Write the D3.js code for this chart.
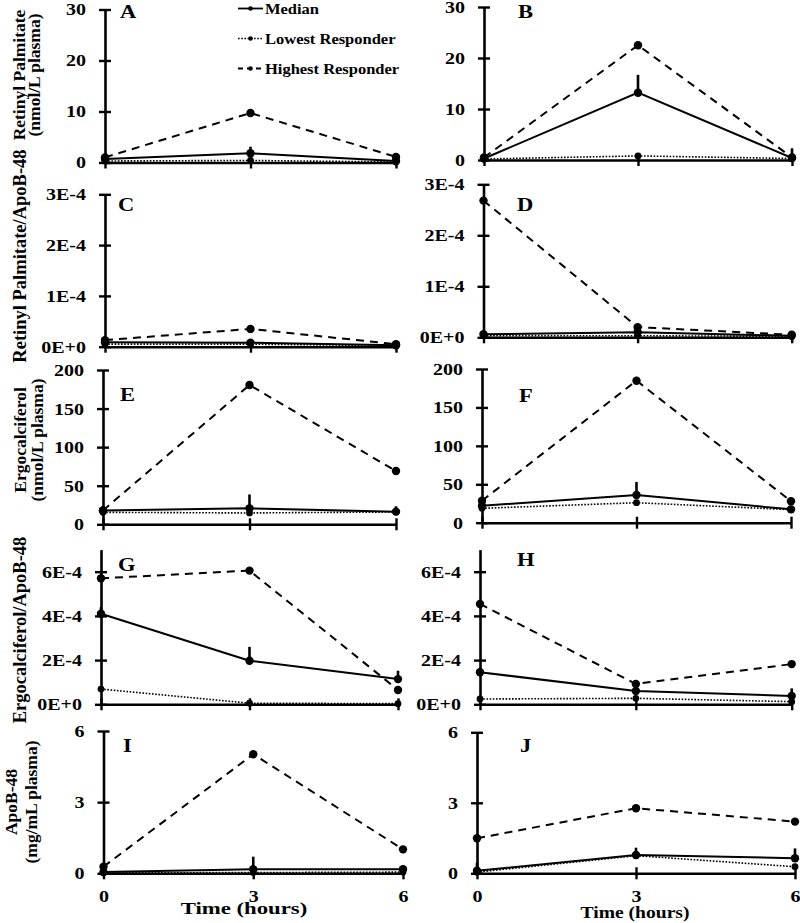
<!DOCTYPE html>
<html>
<head>
<meta charset="utf-8">
<script src="https://cdn.jsdelivr.net/npm/d3@7"></script>
<style>
  html, body { margin: 0; padding: 0; background: #fff; }
  svg { display: block; }
  text { font-family: "Liberation Serif", "Times New Roman", serif; font-weight: bold; fill: #000; }
</style>
</head>
<body>
<svg id="chart" width="800" height="923"></svg>
<script>
// ---------------- DATA ----------------
const times = [0, 3, 6];
const xTickLabels = ["0", "3", "6"];
const panelLetters = ["A", "B", "C", "D", "E", "F", "G", "H", "I", "J"];
const seriesNames = ["Median", "Lowest Responder", "Highest Responder"];

// one inner array per panel (A..J), values at 0, 3, 6 h
const medianValues = [
  [0.7, 1.8, 0.3],
  [0.3, 13.2, 0.4],
  [0.9e-5, 0.8e-5, 0.3e-5],
  [0.6e-5, 1.0e-5, 0.3e-5],
  [18, 20.7, 16.4],
  [22, 36, 17.4],
  [4.1e-4, 1.97e-4, 1.14e-4],
  [1.45e-4, 0.6e-4, 0.38e-4],
  [0.05, 0.17, 0.17],
  [0.11, 0.78, 0.64]
];
const medianErrors = [
  [0.3, 1.3, 0.7],
  [0.3, 3.5, 1.9],
  [0.2e-5, 0.3e-5, 0.2e-5],
  [0.2e-5, 0.2e-5, 0.1e-5],
  [3, 18, 7],
  [3, 17, 3],
  [0.3e-4, 0.63e-4, 0.38e-4],
  [0.2e-4, 0.2e-4, 0.34e-4],
  [0.1, 0.53, 0.15],
  [0.34, 0.31, 0.42]
];
const lowestValues = [
  [0.3, 0.4, 0.1],
  [0.2, 0.8, 0.3],
  [0.5e-5, 0.5e-5, 0.2e-5],
  [0.3e-5, 0.3e-5, 0.2e-5],
  [15.5, 14.7, 16],
  [18.7, 26, 17],
  [0.69e-4, 0.05e-4, 0.03e-4],
  [0.24e-4, 0.27e-4, 0.12e-4],
  [0.02, 0.03, 0.05],
  [0.05, 0.75, 0.28]
];
const highestValues = [
  [1.0, 9.7, 1.1],
  [0.5, 22.5, 0.5],
  [1.3e-5, 3.5e-5, 0.5e-5],
  [2.68e-4, 0.2e-4, 0.05e-4],
  [18, 180.5, 69],
  [28.6, 184.8, 28],
  [5.7e-4, 6.05e-4, 0.65e-4],
  [4.54e-4, 0.92e-4, 1.82e-4],
  [0.28, 5.02, 1.01],
  [1.49, 2.77, 2.2]
];

// per row (A/B, C/D, E/F, G/H, I/J)
const yMaxByRow = [30, 3e-4, 200, 7e-4, 6];
const yTickValuesByRow = [
  [0, 10, 20, 30],
  [0, 1e-4, 2e-4, 3e-4],
  [0, 50, 100, 150, 200],
  [0, 2e-4, 4e-4, 6e-4],
  [0, 3, 6]
];
const yTickLabelsByRow = [
  ["0", "10", "20", "30"],
  ["0E+0", "1E-4", "2E-4", "3E-4"],
  ["0", "50", "100", "150", "200"],
  ["0E+0", "2E-4", "4E-4", "6E-4"],
  ["0", "3", "6"]
];
const yTitlesByRow = [
  ["Retinyl Palmitate", "(nmol/L plasma)"],
  ["Retinyl Palmitate/ApoB-48"],
  ["Ergocalciferol", "(nmol/L plasma)"],
  ["Ergocalciferol/ApoB-48"],
  ["ApoB-48", "(mg/mL plasma)"]
];
const xTitle = "Time (hours)";

// ---------------- LAYOUT ----------------
const panelLayout = [
  {x0: 105, x1: 396, yb: 162.5, yt: 9.5, lx: 120, ly: 18},
  {x0: 484, x1: 792, yb: 160, yt: 7, lx: 518, ly: 18},
  {x0: 105, x1: 396, yb: 346.7, yt: 194.3, lx: 118, ly: 211},
  {x0: 483.5, x1: 791.7, yb: 337.3, yt: 184.3, lx: 517, ly: 211},
  {x0: 103, x1: 396, yb: 524.3, yt: 370, lx: 120, ly: 401},
  {x0: 482, x1: 791, yb: 522.7, yt: 369, lx: 519, ly: 402},
  {x0: 101, x1: 398, yb: 704.3, yt: 549.6, lx: 118, ly: 571},
  {x0: 480, x1: 791.7, yb: 704.3, yt: 549.6, lx: 517, ly: 566},
  {x0: 103.5, x1: 403, yb: 873.3, yt: 731, lx: 123, ly: 752},
  {x0: 477, x1: 795, yb: 873.3, yt: 732.3, lx: 520, ly: 752}
];
const yTitleLayout = [
  {cy: 75, xs: [25, 40], fs: 17.5},
  {cy: 256, xs: [26], fs: 18.5},
  {cy: 440, xs: [26, 43], fs: 17.5},
  {cy: 630, xs: [26], fs: 18.5},
  {cy: 802, xs: [17, 37], fs: 17.5}
];

const svg = d3.select("#chart");
const TICK_FS = 16, TICK_SX = 1.25;

function styleAxis(g) {
  g.select(".domain").attr("stroke", "#000").attr("stroke-width", 2.6);
  g.selectAll(".tick line").attr("stroke", "#000").attr("stroke-width", 2.4);
}

panelLayout.forEach((L, i) => {
  const row = Math.floor(i / 2);
  const x = d3.scaleLinear().domain([0, 6]).range([L.x0, L.x1]);
  const y = d3.scaleLinear().domain([0, yMaxByRow[row]]).range([L.yb, L.yt]);
  const g = svg.append("g");

  // y axis
  const labels = yTickLabelsByRow[row];
  const yAxis = d3.axisLeft(y)
    .tickValues(yTickValuesByRow[row])
    .tickFormat((d, k) => labels[k])
    .tickSizeOuter(0).tickSizeInner(6);
  const gy = g.append("g").attr("transform", `translate(${L.x0},0)`).call(yAxis);
  styleAxis(gy);
  gy.selectAll(".tick line").attr("x1", -6).attr("x2", 6);
  gy.selectAll(".tick text")
    .attr("x", -19 / TICK_SX)
    .attr("dy", "0.34em")
    .attr("transform", `scale(${TICK_SX},1)`)
    .style("font-size", TICK_FS + "px")
    .style("font-family", "'Liberation Serif', 'Times New Roman', serif")
    .style("font-weight", "bold")
    .attr("fill", "#000");

  // x axis
  const xAxis = d3.axisBottom(x).tickValues(times)
    .tickFormat((d, k) => xTickLabels[k]).tickSizeOuter(0).tickSizeInner(6);
  const gx = g.append("g").attr("transform", `translate(0,${L.yb})`).call(xAxis);
  styleAxis(gx);
  gx.selectAll(".tick line").attr("y1", -6).attr("y2", 6);
  if (row === 4) {
    gx.selectAll(".tick text")
      .attr("y", 0).attr("dy", 0)
      .attr("transform", `translate(0,28.5) scale(${TICK_SX},1)`)
      .style("font-size", TICK_FS + "px")
      .style("font-family", "'Liberation Serif', 'Times New Roman', serif")
      .style("font-weight", "bold")
      .attr("fill", "#000");
  } else {
    gx.selectAll(".tick text").remove();
  }

  // lines
  const line = d3.line().x((d, k) => x(times[k])).y(d => y(d));
  const seriesDefs = [
    {vals: medianValues[i], dash: null, w: 2, r: 4.2},
    {vals: lowestValues[i], dash: "1.6,1.6", w: 1.6, r: 3.4},
    {vals: highestValues[i], dash: "8,6", w: 2, r: 4.2}
  ];
  // error bars (median, upward only)
  g.append("g").selectAll("line").data(medianValues[i]).join("line")
    .attr("x1", (d, k) => x(times[k])).attr("x2", (d, k) => x(times[k]))
    .attr("y1", d => y(d))
    .attr("y2", (d, k) => y(d + medianErrors[i][k]))
    .attr("stroke", "#000").attr("stroke-width", 2.6);

  seriesDefs.forEach(s => {
    g.append("path").datum(s.vals)
      .attr("d", line).attr("fill", "none")
      .attr("stroke", "#000").attr("stroke-width", s.w)
      .attr("stroke-dasharray", s.dash);
    g.append("g").selectAll("circle").data(s.vals).join("circle")
      .attr("cx", (d, k) => x(times[k])).attr("cy", d => y(d))
      .attr("r", s.r).attr("fill", "#000");
  });

  // panel letter
  svg.append("text")
    .attr("transform", `translate(${L.lx},${L.ly}) scale(1.25,1)`)
    .style("font-size", "18px")
    .text(panelLetters[i]);
});

// y titles
yTitlesByRow.forEach((lines, r) => {
  const T = yTitleLayout[r];
  lines.forEach((t, j) => {
    svg.append("text")
      .attr("transform", `translate(${T.xs[j]},${T.cy}) rotate(-90)`)
      .attr("text-anchor", "middle")
      .style("font-size", T.fs + "px")
      .text(t);
  });
});

// x titles
[{cx: 244, y: 914, sx: 1.3}, {cx: 635, y: 918, sx: 1.12}].forEach(p => {
  svg.append("text")
    .attr("transform", `translate(${p.cx},${p.y}) scale(${p.sx},1)`)
    .attr("text-anchor", "middle")
    .style("font-size", "17.5px")
    .text(xTitle);
});

// legend (in panel A)
const legendDash = [null, "1.6,1.6", "5,4"];
const legendY = [8.5, 38.5, 68.5];
seriesNames.forEach((name, k) => {
  const lg = svg.append("g");
  lg.append("line").attr("x1", 238).attr("x2", 263)
    .attr("y1", legendY[k]).attr("y2", legendY[k])
    .attr("stroke", "#000").attr("stroke-width", k === 1 ? 1.4 : 1.8)
    .attr("stroke-dasharray", legendDash[k]);
  lg.append("circle").attr("cx", 250.5).attr("cy", legendY[k]).attr("r", 2.3).attr("fill", "#000");
  lg.append("text")
    .attr("transform", `translate(265,${legendY[k] + 5}) scale(1.1,1)`)
    .style("font-size", "15px")
    .text(name);
});
</script>
</body>
</html>
